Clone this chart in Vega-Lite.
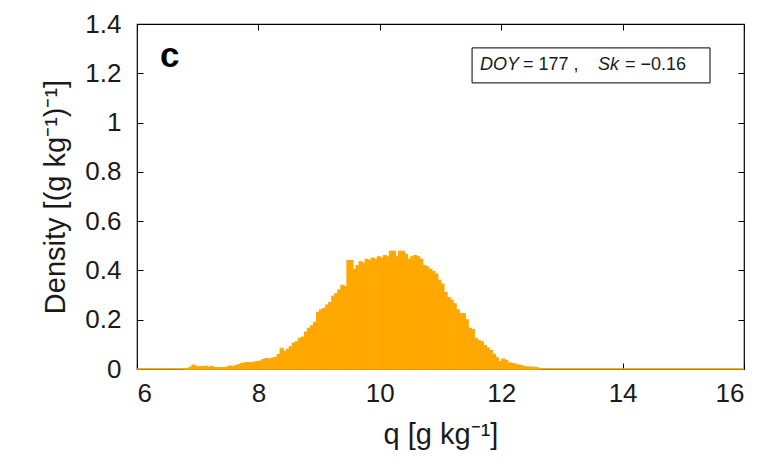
{
  "$schema": "https://vega.github.io/schema/vega-lite/v6.json",
  "autosize": "none",
  "width": 607,
  "height": 345,
  "padding": {"left": 137, "top": 24, "right": 21, "bottom": 104},
  "background": "white",
  "config": {
    "font": "Liberation Sans",
    "view": {"stroke": "black", "strokeWidth": 1.2},
    "axis": {"grid": false, "domain": false, "tickColor": "black", "tickSize": -6, "tickWidth": 1, "labelFontSize": 26, "labelColor": "#1a1a1a", "titleFontSize": 29, "titleFontWeight": "normal", "titleColor": "#1a1a1a"}
  },
  "datasets": {
    "hist": [
      {"lo":6.75,"d":0.002},{"lo":6.80,"d":0.002},{"lo":6.85,"d":0.008},{"lo":6.90,"d":0.016},{"lo":6.95,"d":0.010},
      {"lo":7.00,"d":0.009},{"lo":7.05,"d":0.010},{"lo":7.10,"d":0.011},{"lo":7.15,"d":0.008},{"lo":7.20,"d":0.010},
      {"lo":7.25,"d":0.006},{"lo":7.30,"d":0.005},{"lo":7.35,"d":0.006},{"lo":7.40,"d":0.005},{"lo":7.45,"d":0.008},
      {"lo":7.50,"d":0.012},{"lo":7.55,"d":0.010},{"lo":7.60,"d":0.014},{"lo":7.65,"d":0.018},{"lo":7.70,"d":0.022},
      {"lo":7.75,"d":0.025},{"lo":7.80,"d":0.026},{"lo":7.85,"d":0.025},{"lo":7.90,"d":0.028},{"lo":7.95,"d":0.030},
      {"lo":8.00,"d":0.032},{"lo":8.05,"d":0.038},{"lo":8.10,"d":0.042},{"lo":8.15,"d":0.040},{"lo":8.20,"d":0.044},
      {"lo":8.25,"d":0.046},{"lo":8.30,"d":0.060},{"lo":8.35,"d":0.084},{"lo":8.40,"d":0.072},{"lo":8.45,"d":0.080},
      {"lo":8.50,"d":0.090},{"lo":8.55,"d":0.105},{"lo":8.60,"d":0.110},{"lo":8.65,"d":0.125},{"lo":8.70,"d":0.130},
      {"lo":8.75,"d":0.150},{"lo":8.80,"d":0.165},{"lo":8.85,"d":0.175},{"lo":8.90,"d":0.190},{"lo":8.95,"d":0.230},
      {"lo":9.00,"d":0.240},{"lo":9.05,"d":0.245},{"lo":9.10,"d":0.260},{"lo":9.15,"d":0.270},{"lo":9.20,"d":0.295},
      {"lo":9.25,"d":0.305},{"lo":9.30,"d":0.320},{"lo":9.35,"d":0.340},{"lo":9.40,"d":0.335},{"lo":9.45,"d":0.440},
      {"lo":9.50,"d":0.440},{"lo":9.55,"d":0.405},{"lo":9.60,"d":0.420},{"lo":9.65,"d":0.435},{"lo":9.70,"d":0.430},
      {"lo":9.75,"d":0.445},{"lo":9.80,"d":0.440},{"lo":9.85,"d":0.450},{"lo":9.90,"d":0.445},{"lo":9.95,"d":0.455},
      {"lo":10.00,"d":0.450},{"lo":10.05,"d":0.460},{"lo":10.10,"d":0.455},{"lo":10.15,"d":0.478},{"lo":10.20,"d":0.478},
      {"lo":10.25,"d":0.455},{"lo":10.30,"d":0.478},{"lo":10.35,"d":0.478},{"lo":10.40,"d":0.465},{"lo":10.45,"d":0.445},
      {"lo":10.50,"d":0.455},{"lo":10.55,"d":0.460},{"lo":10.60,"d":0.455},{"lo":10.65,"d":0.445},{"lo":10.70,"d":0.420},
      {"lo":10.75,"d":0.415},{"lo":10.80,"d":0.405},{"lo":10.85,"d":0.395},{"lo":10.90,"d":0.385},{"lo":10.95,"d":0.360},
      {"lo":11.00,"d":0.345},{"lo":11.05,"d":0.310},{"lo":11.10,"d":0.290},{"lo":11.15,"d":0.280},{"lo":11.20,"d":0.265},
      {"lo":11.25,"d":0.240},{"lo":11.30,"d":0.225},{"lo":11.35,"d":0.225},{"lo":11.40,"d":0.200},{"lo":11.45,"d":0.165},
      {"lo":11.50,"d":0.160},{"lo":11.55,"d":0.125},{"lo":11.60,"d":0.115},{"lo":11.65,"d":0.110},{"lo":11.70,"d":0.095},
      {"lo":11.75,"d":0.085},{"lo":11.80,"d":0.075},{"lo":11.85,"d":0.060},{"lo":11.90,"d":0.045},{"lo":11.95,"d":0.030},
      {"lo":12.00,"d":0.040},{"lo":12.05,"d":0.035},{"lo":12.10,"d":0.025},{"lo":12.15,"d":0.022},{"lo":12.20,"d":0.020},
      {"lo":12.25,"d":0.016},{"lo":12.30,"d":0.014},{"lo":12.35,"d":0.010},{"lo":12.40,"d":0.008},{"lo":12.45,"d":0.008},
      {"lo":12.50,"d":0.007},{"lo":12.55,"d":0.006},{"lo":12.60,"d":0.002}
    ],
    "frame": [{"a": 6, "b": 16, "z": 0}],
    "one": [{}]
  },
  "resolve": {"axis": {"x": "independent", "y": "independent"}},
  "layer": [
    {
      "data": {"name": "hist"},
      "mark": {"type": "bar", "color": "#FFA800", "stroke": "#FFA800", "strokeWidth": 1.1, "binSpacing": 0},
      "encoding": {
        "x": {"field": "lo", "type": "quantitative", "bin": {"binned": true, "step": 0.05},
          "scale": {"domain": [6, 16], "nice": false, "zero": false},
          "axis": {"values": [6, 8, 10, 12, 14, 16], "format": "d", "labelPadding": 17, "title": "q [g kg⁻¹]", "titlePadding": 14}},
        "y": {"field": "d", "type": "quantitative",
          "scale": {"domain": [0, 1.4], "nice": false},
          "axis": {"values": [0, 0.2, 0.4, 0.6, 0.8, 1, 1.2, 1.4], "format": ".1~f", "labelPadding": 22, "title": "Density [(g kg⁻¹)⁻¹]", "titlePadding": 14}}
      }
    },
    {
      "data": {"name": "frame"},
      "mark": {"type": "rule", "color": "#FFA800", "strokeWidth": 1.6},
      "encoding": {
        "x": {"field": "a", "type": "quantitative", "axis": {"orient": "top", "values": [6, 8, 10, 12, 14, 16], "labels": false, "title": null}},
        "x2": {"field": "b"},
        "y": {"field": "z", "type": "quantitative", "axis": {"orient": "right", "values": [0, 0.2, 0.4, 0.6, 0.8, 1, 1.2, 1.4], "labels": false, "title": null}}
      }
    },
    {
      "data": {"name": "one"},
      "mark": {"type": "rect", "fill": "white", "stroke": "black", "strokeWidth": 1},
      "encoding": {
        "x": {"datum": 11.52, "type": "quantitative", "axis": null},
        "x2": {"datum": 15.44},
        "y": {"datum": 1.303, "type": "quantitative", "axis": null},
        "y2": {"datum": 1.161}
      }
    },
    {
      "data": {"name": "one"},
      "mark": {"type": "text", "text": "DOY", "fontStyle": "italic", "fontSize": 18, "align": "left", "baseline": "middle", "color": "#1a1a1a"},
      "encoding": {"x": {"datum": 11.65, "type": "quantitative", "axis": null}, "y": {"datum": 1.232, "type": "quantitative", "axis": null}}
    },
    {
      "data": {"name": "one"},
      "mark": {"type": "text", "text": "= 177 ,", "fontSize": 18, "align": "left", "baseline": "middle", "dx": 43, "color": "#1a1a1a"},
      "encoding": {"x": {"datum": 11.65, "type": "quantitative", "axis": null}, "y": {"datum": 1.232, "type": "quantitative", "axis": null}}
    },
    {
      "data": {"name": "one"},
      "mark": {"type": "text", "text": "Sk", "fontStyle": "italic", "fontSize": 18, "align": "left", "baseline": "middle", "dx": 118, "color": "#1a1a1a"},
      "encoding": {"x": {"datum": 11.65, "type": "quantitative", "axis": null}, "y": {"datum": 1.232, "type": "quantitative", "axis": null}}
    },
    {
      "data": {"name": "one"},
      "mark": {"type": "text", "text": "= −0.16", "fontSize": 18, "align": "left", "baseline": "middle", "dx": 145, "color": "#1a1a1a"},
      "encoding": {"x": {"datum": 11.65, "type": "quantitative", "axis": null}, "y": {"datum": 1.232, "type": "quantitative", "axis": null}}
    },
    {
      "data": {"name": "one"},
      "mark": {"type": "text", "text": "c", "fontWeight": "bold", "fontSize": 35, "align": "left", "baseline": "middle", "color": "black"},
      "encoding": {"x": {"datum": 6.38, "type": "quantitative", "axis": null}, "y": {"datum": 1.27, "type": "quantitative", "axis": null}}
    }
  ]
}
